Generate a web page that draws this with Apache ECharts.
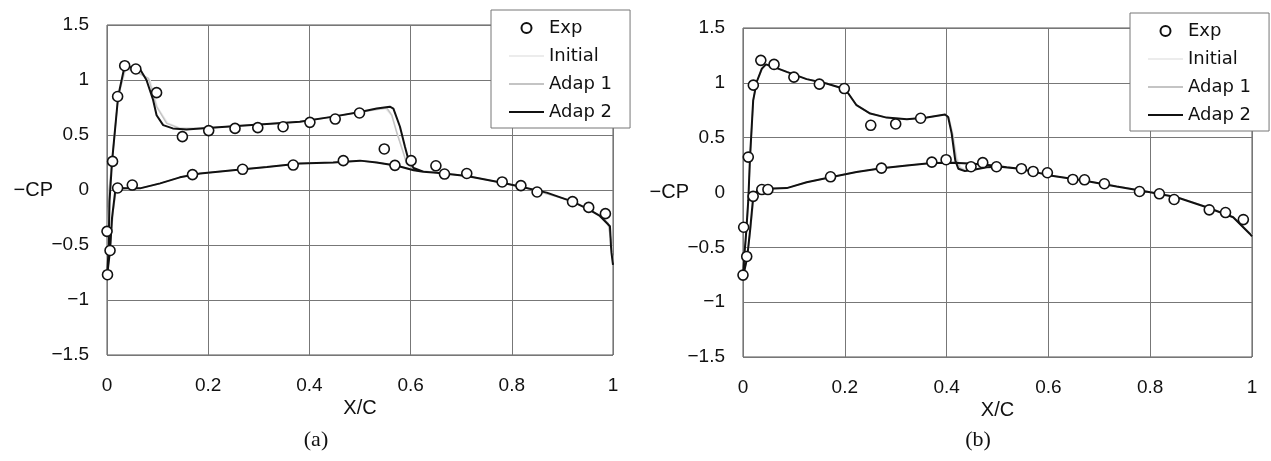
<!DOCTYPE html>
<html>
<head>
<meta charset="utf-8">
<script src="https://cdn.jsdelivr.net/npm/echarts@6/dist/echarts.min.js"></script>
<style>html,body{margin:0;padding:0;background:#fff}#c{width:1271px;height:461px}</style>
</head>
<body>
<div id="c"></div>
<script>
// ---- Data (x/c, -Cp) ----
const seriesNames = ['Exp', 'Initial', 'Adap 1', 'Adap 2'];
const xTicks = [0, 0.2, 0.4, 0.6, 0.8, 1];
const yTicks = [-1.5, -1, -0.5, 0, 0.5, 1, 1.5];

// Panel (a)
const expA = [[0,-0.376],[0.006,-0.55],[0.001,-0.77],[0.011,0.26],[0.021,0.85],[0.035,1.13],[0.057,1.10],[0.098,0.885],[0.149,0.485],[0.201,0.54],[0.253,0.56],[0.298,0.567],[0.348,0.575],[0.401,0.615],[0.451,0.645],[0.499,0.70],[0.548,0.373],[0.601,0.267],[0.650,0.22],[0.711,0.15],[0.818,0.04],[0.920,-0.106],[0.952,-0.158],[0.985,-0.215],[0.021,0.018],[0.05,0.045],[0.169,0.14],[0.268,0.188],[0.368,0.227],[0.467,0.267],[0.569,0.224],[0.667,0.145],[0.781,0.073],[0.850,-0.018]];
const initialA = [[1.0,-0.66],[0.996,-0.45],[0.99,-0.3],[0.974,-0.23],[0.92,-0.1],[0.82,0.03],[0.71,0.13],[0.65,0.16],[0.61,0.18],[0.594,0.23],[0.587,0.32],[0.575,0.5],[0.562,0.68],[0.55,0.74],[0.5,0.71],[0.447,0.665],[0.381,0.62],[0.316,0.6],[0.249,0.58],[0.184,0.56],[0.144,0.565],[0.12,0.61],[0.1,0.75],[0.085,1.0],[0.055,1.08],[0.037,1.09],[0.022,0.84],[0.01,0.25],[0.004,0],[0.002,-0.5],[0,-0.78],[0.006,-0.55],[0.012,-0.2],[0.018,0],[0.04,0.015],[0.07,0.02],[0.105,0.06],[0.144,0.115],[0.184,0.15],[0.249,0.18],[0.316,0.21],[0.381,0.24],[0.447,0.25],[0.5,0.265],[0.533,0.25],[0.573,0.22],[0.61,0.18]];
const adap1A = [[1.0,-0.66],[0.996,-0.45],[0.99,-0.3],[0.974,-0.23],[0.92,-0.1],[0.82,0.03],[0.71,0.13],[0.65,0.16],[0.61,0.18],[0.592,0.24],[0.586,0.333],[0.573,0.515],[0.563,0.68],[0.553,0.745],[0.5,0.71],[0.447,0.665],[0.381,0.62],[0.316,0.6],[0.249,0.58],[0.184,0.56],[0.144,0.56],[0.118,0.606],[0.098,0.757],[0.082,1.015],[0.052,1.09],[0.036,1.1],[0.022,0.85],[0.01,0.26],[0.004,0],[0.002,-0.5],[0,-0.78],[0.006,-0.55],[0.012,-0.2],[0.018,0],[0.04,0.015],[0.07,0.02],[0.105,0.06],[0.144,0.115],[0.184,0.15],[0.249,0.18],[0.316,0.21],[0.381,0.24],[0.447,0.25],[0.5,0.265],[0.533,0.25],[0.573,0.22],[0.61,0.18]];
const adap2A = [[1.0,-0.68],[0.997,-0.57],[0.996,-0.51],[0.994,-0.33],[0.974,-0.236],[0.952,-0.176],[0.920,-0.106],[0.869,-0.024],[0.818,0.03],[0.781,0.066],[0.711,0.127],[0.651,0.157],[0.625,0.166],[0.606,0.2],[0.596,0.27],[0.589,0.39],[0.579,0.575],[0.566,0.74],[0.559,0.757],[0.533,0.74],[0.5,0.71],[0.447,0.667],[0.381,0.62],[0.316,0.60],[0.249,0.58],[0.184,0.56],[0.157,0.55],[0.13,0.56],[0.111,0.59],[0.098,0.68],[0.091,0.82],[0.078,1.0],[0.065,1.10],[0.041,1.12],[0.034,1.11],[0.022,0.85],[0.01,0.26],[0.005,-0.1],[0.003,-0.55],[0.0,-0.79],[0.006,-0.55],[0.01,-0.25],[0.016,-0.02],[0.022,0.018],[0.039,0.015],[0.065,0.015],[0.105,0.06],[0.144,0.115],[0.184,0.15],[0.249,0.18],[0.316,0.21],[0.381,0.24],[0.447,0.25],[0.5,0.267],[0.533,0.25],[0.573,0.22],[0.606,0.18],[0.625,0.166]];

// Panel (b)
const expB = [[0.0013,-0.317],[0.0073,-0.583],[0,-0.753],[0.0104,0.323],[0.0203,0.979],[0.035,1.205],[0.061,1.168],[0.1,1.052],[0.15,0.988],[0.199,0.948],[0.251,0.613],[0.3,0.625],[0.349,0.677],[0.02,-0.035],[0.037,0.027],[0.049,0.027],[0.172,0.143],[0.272,0.222],[0.371,0.277],[0.399,0.299],[0.448,0.235],[0.471,0.272],[0.498,0.235],[0.547,0.217],[0.570,0.192],[0.598,0.18],[0.648,0.119],[0.671,0.116],[0.710,0.08],[0.779,0.009],[0.818,-0.012],[0.847,-0.064],[0.916,-0.158],[0.948,-0.183],[0.983,-0.247]];
const initialB = [[1.0,-0.39],[0.996,-0.37],[0.963,-0.22],[0.911,-0.13],[0.852,-0.04],[0.8,0.005],[0.734,0.057],[0.669,0.11],[0.603,0.157],[0.544,0.218],[0.505,0.236],[0.479,0.232],[0.455,0.21],[0.44,0.2],[0.428,0.23],[0.42,0.32],[0.413,0.52],[0.405,0.68],[0.397,0.71],[0.361,0.683],[0.322,0.668],[0.282,0.683],[0.25,0.72],[0.223,0.796],[0.207,0.903],[0.19,0.958],[0.164,0.994],[0.125,1.034],[0.086,1.10],[0.06,1.14],[0.045,1.16],[0.037,1.12],[0.027,1.0],[0.02,0.83],[0.014,0.32],[0.011,-0.06],[0.007,-0.36],[0.004,-0.55],[0,-0.76],[0.009,-0.58],[0.015,-0.33],[0.022,-0.04],[0.03,0.034],[0.047,0.034],[0.086,0.04],[0.125,0.094],[0.172,0.14],[0.223,0.186],[0.272,0.222],[0.322,0.247],[0.371,0.268],[0.413,0.272],[0.453,0.262],[0.492,0.247],[0.518,0.231],[0.544,0.218]];
const adap1B = [[1.0,-0.40],[0.996,-0.375],[0.963,-0.224],[0.911,-0.133],[0.852,-0.042],[0.8,0.004],[0.734,0.056],[0.669,0.11],[0.603,0.156],[0.544,0.217],[0.505,0.236],[0.479,0.232],[0.454,0.21],[0.438,0.198],[0.426,0.225],[0.419,0.31],[0.412,0.53],[0.404,0.685],[0.397,0.711],[0.361,0.683],[0.322,0.668],[0.282,0.683],[0.25,0.72],[0.223,0.796],[0.207,0.903],[0.19,0.958],[0.164,0.994],[0.125,1.034],[0.086,1.10],[0.06,1.145],[0.045,1.165],[0.037,1.125],[0.027,1.005],[0.02,0.835],[0.014,0.32],[0.0105,-0.065],[0.0065,-0.37],[0.0035,-0.55],[0,-0.765],[0.0085,-0.59],[0.0145,-0.34],[0.021,-0.04],[0.03,0.034],[0.047,0.034],[0.086,0.04],[0.125,0.094],[0.172,0.14],[0.223,0.186],[0.272,0.222],[0.322,0.247],[0.371,0.268],[0.413,0.272],[0.453,0.262],[0.492,0.247],[0.518,0.231],[0.544,0.217]];
const adap2B = [[1.0,-0.40],[0.996,-0.378],[0.963,-0.226],[0.911,-0.134],[0.852,-0.043],[0.8,0.003],[0.734,0.055],[0.669,0.11],[0.603,0.156],[0.544,0.217],[0.505,0.235],[0.479,0.231],[0.453,0.208],[0.436,0.195],[0.423,0.217],[0.417,0.293],[0.41,0.537],[0.403,0.689],[0.397,0.711],[0.361,0.683],[0.322,0.668],[0.282,0.683],[0.25,0.72],[0.223,0.796],[0.207,0.903],[0.19,0.958],[0.164,0.994],[0.125,1.034],[0.086,1.10],[0.06,1.146],[0.045,1.168],[0.037,1.13],[0.027,1.01],[0.02,0.84],[0.0138,0.323],[0.0104,-0.07],[0.006,-0.38],[0.003,-0.55],[0,-0.77],[0.008,-0.6],[0.0138,-0.35],[0.02,-0.043],[0.03,0.034],[0.047,0.034],[0.086,0.04],[0.125,0.094],[0.172,0.14],[0.223,0.186],[0.272,0.222],[0.322,0.247],[0.371,0.268],[0.413,0.272],[0.453,0.262],[0.492,0.247],[0.518,0.231],[0.544,0.217]];

const panelLabels = ['(a)', '(b)'];
const axisNameX = 'X/C';
const axisNameY = '\u2212CP';

// ---- Chart ----
const chart = echarts.init(document.getElementById('c'), null, {renderer: 'canvas'});
const tickFont = 'Liberation Sans';
const grids = [
  {left: 107, top: 25, width: 506, height: 330},
  {left: 743, top: 28, width: 509, height: 329}
];
function xAx(i) {
  return {
    type: 'value', gridIndex: i, min: xTicks[0], max: xTicks[xTicks.length-1], interval: 0.2,
    name: axisNameX, nameLocation: 'middle', nameGap: 43, nameMoveOverlap: false,
    nameTextStyle: {fontFamily: tickFont, fontSize: 20, color: '#111'},
    axisLine: {show: false}, axisTick: {show: false},
    axisLabel: {margin: 21, fontFamily: tickFont, fontSize: 19, color: '#111',
      formatter: v => String(v).replace('-', '\u2212')},
    splitLine: {show: true, lineStyle: {color: '#777', width: 1}}
  };
}
function yAx(i) {
  return {
    type: 'value', gridIndex: i, min: yTicks[0], max: yTicks[yTicks.length-1], interval: 0.5,
    name: axisNameY, nameLocation: 'middle', nameRotate: 0, nameGap: 54, nameMoveOverlap: false,
    nameTextStyle: {fontFamily: tickFont, fontSize: 20, color: '#111'},
    axisLine: {show: false}, axisTick: {show: false},
    axisLabel: {margin: 18, fontFamily: tickFont, fontSize: 19, color: '#111',
      formatter: v => String(v).replace('-', '\u2212')},
    splitLine: {show: true, lineStyle: {color: '#777', width: 1}}
  };
}
function lineS(name, data, i, color, width, z) {
  return {name, type: 'line', data, xAxisIndex: i, yAxisIndex: i, symbol: 'none', showSymbol: false,
    lineStyle: {color, width}, itemStyle: {color}, z, animation: false, silent: true};
}
function expS(data, i) {
  return {name: seriesNames[0], type: 'scatter', data, xAxisIndex: i, yAxisIndex: i,
    symbol: 'circle', symbolSize: 10,
    itemStyle: {color: '#fff', borderColor: '#111', borderWidth: 1.6, opacity: 1}, z: 10, animation: false, silent: true};
}
const hiddenDot = {color: 'rgba(0,0,0,0)', borderColor: 'rgba(0,0,0,0)', borderWidth: 0};
function legendFor(left, top) {
  return {
    left, top, orient: 'vertical',
    data: [
      {name: seriesNames[0]},
      {name: seriesNames[1], itemStyle: hiddenDot},
      {name: seriesNames[2], itemStyle: hiddenDot},
      {name: seriesNames[3], itemStyle: hiddenDot}
    ],
    backgroundColor: '#fff', borderColor: '#777', borderWidth: 1, borderRadius: 0,
    padding: [9, 18, 7, 17], itemGap: 10, itemWidth: 35, itemHeight: 10,
    textStyle: {fontFamily: 'DejaVu Sans', fontSize: 18, color: '#111'},
    selectedMode: false
  };
}
const option = {
  backgroundColor: '#fff',
  animation: false,
  grid: grids.map(g => Object.assign({show: true, borderColor: '#555', borderWidth: 1, backgroundColor: 'transparent', containLabel: false}, g)),
  xAxis: [xAx(0), xAx(1)],
  yAxis: [yAx(0), yAx(1)],
  legend: [legendFor(491, 10), legendFor(1130, 13)],
  title: [
    {text: panelLabels[0], left: 311, top: 424, textAlign: 'center', textStyle: {fontFamily: 'Liberation Serif', fontSize: 22, fontWeight: 'normal', color: '#111'}},
    {text: panelLabels[1], left: 973, top: 424, textAlign: 'center', textStyle: {fontFamily: 'Liberation Serif', fontSize: 22, fontWeight: 'normal', color: '#111'}}
  ],
  series: [
    expS(expA, 0),
    lineS(seriesNames[1], initialA, 0, '#ececec', 1.5, 2),
    lineS(seriesNames[2], adap1A, 0, '#c4c4c4', 1.5, 3),
    lineS(seriesNames[3], adap2A, 0, '#111', 2, 4),
    expS(expB, 1),
    lineS(seriesNames[1], initialB, 1, '#ececec', 1.5, 2),
    lineS(seriesNames[2], adap1B, 1, '#c4c4c4', 1.5, 3),
    lineS(seriesNames[3], adap2B, 1, '#111', 2, 4)
  ]
};
chart.setOption(option);
</script>
</body>
</html>
